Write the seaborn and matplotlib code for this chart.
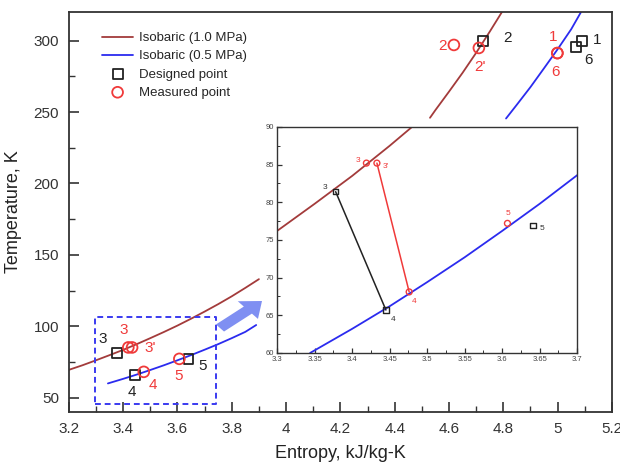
import numpy as np
import pandas as pd
import matplotlib
matplotlib.use('Agg')
import matplotlib.pyplot as plt
from matplotlib.ticker import MultipleLocator, FuncFormatter
import seaborn as sns

# Isobaric curves (two visible segments each)
s_hp_low = [3.20, 3.25, 3.30, 3.35, 3.40, 3.45, 3.50, 3.55, 3.60, 3.65,
            3.70, 3.75, 3.80, 3.85, 3.90]
t_hp_low = [69.5, 72.7, 76.2, 79.8, 83.5, 87.5, 91.7, 96.0, 100.5, 105.3,
            110.3, 115.5, 121.0, 126.9, 133.0]
s_hp_high = [4.53, 4.55, 4.60, 4.65, 4.70, 4.75, 4.80]
t_hp_high = [246.0, 251.4, 264.3, 277.5, 291.5, 306.3, 321.6]

s_lp_low = [3.344, 3.40, 3.45, 3.50, 3.55, 3.60, 3.65, 3.70, 3.75, 3.80, 3.85, 3.89]
t_lp_low = [60.0, 63.2, 66.2, 69.4, 72.7, 76.2, 79.8, 83.6, 87.5, 91.7, 96.1, 100.9]
s_lp_high = [4.81, 4.85, 4.90, 4.95, 5.00, 5.05, 5.086]
t_lp_high = [245.5, 255.2, 267.5, 280.7, 294.0, 308.0, 320.0]

# Designed (black squares) and measured (red circles) state points
design_lbl = ['1', '2', '3', '4', '5', '6']
design_s = [5.089, 4.725, 3.378, 3.445, 3.641, 5.067]
design_t = [300.0, 300.0, 81.4, 65.7, 76.9, 295.8]

meas_lbl = ['1', '2', "2'", '3', "3'", '4', '5', '6']
meas_s = [4.999, 4.618, 4.710, 3.419, 3.433, 3.476, 3.607, 4.999]
meas_t = [291.3, 297.0, 294.9, 85.2, 85.2, 68.1, 77.2, 291.3]

brown = '#a33b3b'
blue = '#2b2bef'
red = '#f03a3a'
dark = '#222222'

sns.set_theme(style='white')
plt.rcParams['font.family'] = ['Liberation Sans', 'DejaVu Sans']
plt.rcParams['axes.edgecolor'] = '#333333'
plt.rcParams['axes.linewidth'] = 1.3

fig = plt.figure(figsize=(6.2, 4.65), dpi=100)
ax = fig.add_axes([0.111, 0.114, 0.876, 0.860])

def draw_curves(a, with_labels):
    sns.lineplot(x=s_hp_low, y=t_hp_low, color=brown, lw=1.3, sort=False, ax=a,
                 label='Isobaric (1.0 MPa)' if with_labels else None)
    sns.lineplot(x=s_hp_high, y=t_hp_high, color=brown, lw=1.3, sort=False, ax=a)
    sns.lineplot(x=s_lp_low, y=t_lp_low, color=blue, lw=1.3, sort=False, ax=a,
                 label='Isobaric (0.5 MPa)' if with_labels else None)
    sns.lineplot(x=s_lp_high, y=t_lp_high, color=blue, lw=1.3, sort=False, ax=a)

draw_curves(ax, True)
sns.scatterplot(x=design_s, y=design_t, marker='s', s=50, facecolor='none',
                edgecolor=dark, linewidth=1.3, ax=ax, label='Designed point', zorder=4)
sns.scatterplot(x=meas_s, y=meas_t, marker='o', s=60, facecolor='none',
                edgecolor=red, linewidth=1.3, ax=ax, label='Measured point', zorder=5)

# point labels
black_txt = {'1': (5.144, 300.5), '6': (5.112, 286.5), '2': (4.817, 301.9),
             '3': (3.324, 91.3), '4': (3.431, 53.7), '5': (3.691, 72.4)}
red_txt = {'1': (4.983, 302.8), '6': (4.994, 277.8), '2': (4.576, 296.5),
           "2'": (4.714, 281.3), '3': (3.403, 97.4), "3'": (3.498, 84.8),
           '4': (3.508, 58.9), '5': (3.605, 64.9)}
for k, (x, y) in black_txt.items():
    ax.text(x, y, k, color=dark, fontsize=11, ha='center', va='center')
for k, (x, y) in red_txt.items():
    ax.text(x, y, k, color=red, fontsize=11, ha='center', va='center')

# dashed zoom box
ax.plot([3.296, 3.741, 3.741, 3.296, 3.296], [45.6, 45.6, 106.7, 106.7, 45.6],
        ls=(0, (3, 2)), color='#3a3af0', lw=1.4)

ax.set_xlim(3.2, 5.2)
ax.set_ylim(40, 320)
ax.xaxis.set_major_locator(MultipleLocator(0.2))
ax.xaxis.set_minor_locator(MultipleLocator(0.1))
ax.yaxis.set_major_locator(MultipleLocator(50))
ax.yaxis.set_minor_locator(MultipleLocator(25))
ax.xaxis.set_major_formatter(FuncFormatter(lambda v, p: '%g' % round(v, 2)))
ax.tick_params(which='both', direction='in', bottom=True, left=True,
               top=False, right=False, colors='#333333', labelcolor='#333333')
ax.tick_params(which='major', length=7, width=1.2, labelsize=11, pad=7)
ax.tick_params(which='minor', length=4, width=1.0)
ax.set_xlabel('Entropy, kJ/kg-K', fontsize=13, labelpad=7, color='#222222')
ax.set_ylabel('Temperature, K', fontsize=13, labelpad=8, color='#222222')

leg = ax.legend(loc='upper left', bbox_to_anchor=(0.04, 0.98), frameon=False,
                fontsize=9.5, handlelength=2.3, handletextpad=0.5,
                labelspacing=0.45)

# arrow to inset
fig.patches.append(matplotlib.patches.FancyArrow(
    220 / 620, 1 - 328 / 465, 42 / 620, 27 / 465, width=0.02,
    head_width=0.05, head_length=0.03, length_includes_head=True,
    transform=fig.transFigure, color='#7f8ff2', lw=0))

# inset
axi = fig.add_axes([0.447, 0.241, 0.484, 0.486])
axi.set_facecolor('white')
draw_curves(axi, False)
sns.lineplot(x=design_s[2:4], y=design_t[2:4], color=dark, lw=1.1, sort=False, ax=axi)
sns.lineplot(x=meas_s[4:6], y=meas_t[4:6], color=red, lw=1.1, sort=False, ax=axi)
sns.scatterplot(x=design_s[2:5], y=design_t[2:5], marker='s', s=14, facecolor='none',
                edgecolor=dark, linewidth=1.0, ax=axi, zorder=4)
sns.scatterplot(x=meas_s[3:7], y=meas_t[3:7], marker='o', s=18, facecolor='none',
                edgecolor=red, linewidth=1.0, ax=axi, zorder=5)
if axi.get_legend() is not None:
    axi.get_legend().remove()
in_black = {'3': (3.364, 81.9), '4': (3.454, 64.5), '5': (3.653, 76.5)}
in_red = {'3': (3.408, 85.6), "3'": (3.445, 84.7), '4': (3.483, 66.8), '5': (3.608, 78.5)}
for k, (x, y) in in_black.items():
    axi.text(x, y, k, color='#333333', fontsize=6, ha='center', va='center')
for k, (x, y) in in_red.items():
    axi.text(x, y, k, color=red, fontsize=6, ha='center', va='center')
axi.set_xlim(3.3, 3.7)
axi.set_ylim(60, 90)
axi.xaxis.set_major_locator(MultipleLocator(0.05))
axi.xaxis.set_minor_locator(MultipleLocator(0.025))
axi.yaxis.set_major_locator(MultipleLocator(5))
axi.yaxis.set_minor_locator(MultipleLocator(2.5))
axi.xaxis.set_major_formatter(FuncFormatter(lambda v, p: '%g' % round(v, 3)))
axi.tick_params(which='both', direction='in', bottom=True, left=True,
                top=False, right=False, colors='#333333', labelcolor='#444444')
axi.tick_params(which='major', length=3.5, width=0.9, labelsize=5.5, pad=2)
axi.tick_params(which='minor', length=2, width=0.7)
axi.set_xlabel('')
axi.set_ylabel('')
for sp in axi.spines.values():
    sp.set_linewidth(1.0)

fig.savefig('out.png', dpi=100)
